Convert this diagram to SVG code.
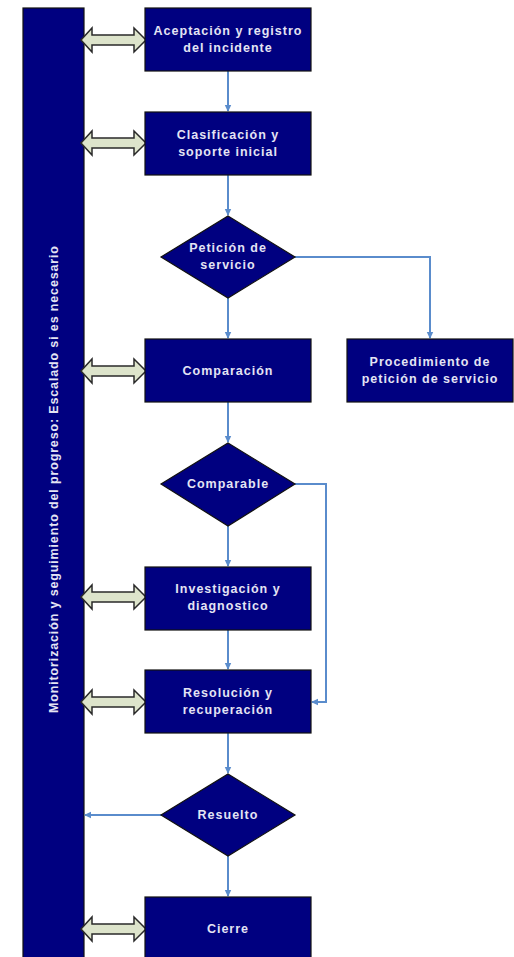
<svg xmlns="http://www.w3.org/2000/svg" width="514" height="957" viewBox="0 0 514 957">
<style>
.box{fill:#000080;stroke:#111;stroke-width:1.2}
.t{font-family:"Liberation Sans",Arial,sans-serif;font-weight:bold;font-size:12.5px;fill:#e4e4f4;text-anchor:middle;letter-spacing:1px}
.c{fill:none;stroke:#5a8ccc;stroke-width:2}
.dbl{fill:#dde4cb;stroke:#2a2a2a;stroke-width:1.5;stroke-linejoin:miter}
</style>
<defs>
<marker id="ah" markerWidth="8" markerHeight="8" refX="6" refY="4" orient="auto" markerUnits="userSpaceOnUse">
<path d="M0,0.8 L7,4 L0,7.2 Z" fill="#5a8ccc"/>
</marker>
<path id="da" d="M0,0 L11,-12 L11,-5 L53,-5 L53,-12 L65,0 L53,12 L53,5 L11,5 L11,12 Z"/>
</defs>
<rect width="514" height="957" fill="#fff"/>
<g id="monitor">
<rect class="box" x="23" y="8" width="61" height="960"/>
<text class="t" transform="translate(58,479) rotate(-90)" textLength="468" lengthAdjust="spacing" letter-spacing="0">Monitorización y seguimiento del progreso: Escalado si es necesario</text>
</g>
<g id="connectors">
<path class="c" d="M228,71 V111" marker-end="url(#ah)"/>
<path class="c" d="M228,175 V215" marker-end="url(#ah)"/>
<path class="c" d="M228,298 V338" marker-end="url(#ah)"/>
<path class="c" d="M295,257 H430 V338" marker-end="url(#ah)"/>
<path class="c" d="M228,402 V442" marker-end="url(#ah)"/>
<path class="c" d="M228,526 V566" marker-end="url(#ah)"/>
<path class="c" d="M295,484 H326 V702 H312" marker-end="url(#ah)"/>
<path class="c" d="M228,630 V669" marker-end="url(#ah)"/>
<path class="c" d="M228,733 V773" marker-end="url(#ah)"/>
<path class="c" d="M162,815 H85" marker-end="url(#ah)"/>
<path class="c" d="M228,856 V896" marker-end="url(#ah)"/>
<use href="#da" class="dbl" x="81" y="40"/>
<use href="#da" class="dbl" x="81" y="143"/>
<use href="#da" class="dbl" x="81" y="371"/>
<use href="#da" class="dbl" x="81" y="597"/>
<use href="#da" class="dbl" x="81" y="702"/>
<use href="#da" class="dbl" x="81" y="929"/>
</g>
<g id="aceptacion">
<rect class="box" x="145" y="8" width="166" height="63"/>
<text class="t" x="228" y="35">Aceptación y registro</text>
<text class="t" x="228" y="52">del incidente</text>
</g>
<g id="clasificacion">
<rect class="box" x="145" y="112" width="166" height="63"/>
<text class="t" x="228" y="139">Clasificación y</text>
<text class="t" x="228" y="156">soporte inicial</text>
</g>
<g id="peticion">
<polygon class="box" points="228,216 295,257 228,298 161,257"/>
<text class="t" x="228" y="252">Petición de</text>
<text class="t" x="228" y="269">servicio</text>
</g>
<g id="comparacion">
<rect class="box" x="145" y="339" width="166" height="63"/>
<text class="t" x="228" y="375">Comparación</text>
</g>
<g id="procedimiento">
<rect class="box" x="347" y="339" width="166" height="63"/>
<text class="t" x="430" y="366">Procedimiento de</text>
<text class="t" x="430" y="383">petición de servicio</text>
</g>
<g id="comparable">
<polygon class="box" points="228,443 295,484 228,526 161,484"/>
<text class="t" x="228" y="488">Comparable</text>
</g>
<g id="investigacion">
<rect class="box" x="145" y="567" width="166" height="63"/>
<text class="t" x="228" y="593">Investigación y</text>
<text class="t" x="228" y="610">diagnostico</text>
</g>
<g id="resolucion">
<rect class="box" x="145" y="670" width="166" height="63"/>
<text class="t" x="228" y="697">Resolución y</text>
<text class="t" x="228" y="714">recuperación</text>
</g>
<g id="resuelto">
<polygon class="box" points="228,774 295,815 228,856 161,815"/>
<text class="t" x="228" y="819">Resuelto</text>
</g>
<g id="cierre">
<rect class="box" x="145" y="897" width="166" height="70"/>
<text class="t" x="228" y="933">Cierre</text>
</g>
</svg>
